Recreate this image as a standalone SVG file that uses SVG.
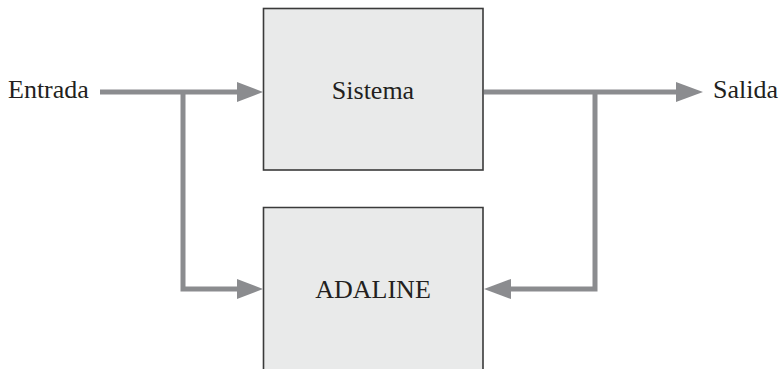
<svg xmlns="http://www.w3.org/2000/svg" width="780" height="369" viewBox="0 0 780 369">
  <style>
    .box { fill: #e9eaea; stroke: #3a3a3a; stroke-width: 1.6; }
    .wire { fill: none; stroke: #8b8c8f; stroke-width: 5; }
    .head { fill: #8b8c8f; }
    .label { font-family: "Liberation Serif", "Times New Roman", serif; font-size: 26px; fill: #231f20; }
  </style>
  <rect width="780" height="369" fill="#ffffff"/>

  <g id="sistema">
    <rect class="box" x="263.5" y="8.5" width="219.5" height="161.5"/>
    <text class="label" x="373" y="99" text-anchor="middle">Sistema</text>
  </g>

  <g id="adaline">
    <path class="box" d="M263.5 372 V207.5 H483 V372"/>
    <text class="label" x="373" y="298" text-anchor="middle">ADALINE</text>
  </g>

  <g id="entrada">
    <text class="label" x="8" y="98">Entrada</text>
  </g>

  <g id="salida">
    <text class="label" x="713" y="98">Salida</text>
  </g>

  <g id="connectors">
    <!-- input to Sistema, with branch down to ADALINE -->
    <path class="wire" d="M100 92 H240"/>
    <polygon class="head" points="237,82 263,92 237,102"/>
    <path class="wire" d="M183 92 V289 H240"/>
    <polygon class="head" points="237,279 263,289 237,299"/>
    <!-- Sistema output, with feedback to ADALINE -->
    <path class="wire" d="M484 92 H680"/>
    <polygon class="head" points="676,82 703,92 676,102"/>
    <path class="wire" d="M595 92 V289 H508"/>
    <polygon class="head" points="511,279 484,289 511,299"/>
  </g>
</svg>
